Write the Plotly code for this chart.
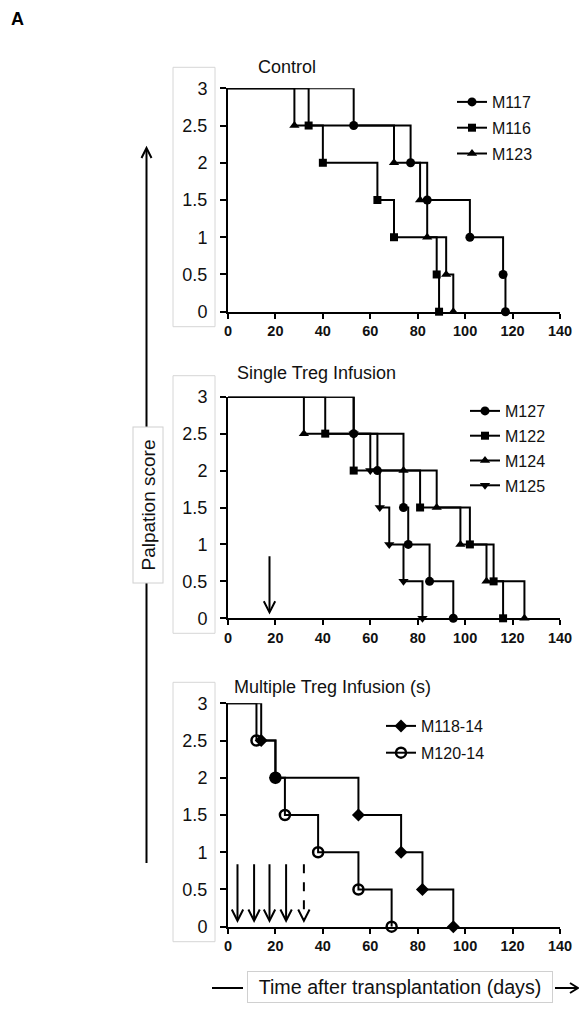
import plotly.graph_objects as go

# The page body has an 8px margin; the figure is sized to fill the rest of the window
OFF = 8
FW, FH = 587 - OFF, 1012 - OFF

# ---------------- data ----------------
start_day = 0
start_score = 3

# Control
m117_days = [53, 77, 84, 102, 116, 117]
m117_score = [2.5, 2, 1.5, 1, 0.5, 0]
m116_days = [34, 40, 63, 70, 88, 89]
m116_score = [2.5, 2, 1.5, 1, 0.5, 0]
m123_days = [28, 70, 81, 84, 92, 95]
m123_score = [2.5, 2, 1.5, 1, 0.5, 0]

# Single Treg infusion
m127_days = [53, 63, 74, 76, 85, 95]
m127_score = [2.5, 2, 1.5, 1, 0.5, 0]
m122_days = [41, 53, 81, 102, 112, 116]
m122_score = [2.5, 2, 1.5, 1, 0.5, 0]
m124_days = [32, 74, 88, 98, 109, 125]
m124_score = [2.5, 2, 1.5, 1, 0.5, 0]
m125_days = [53, 60, 64, 68, 74, 82]
m125_score = [2.5, 2, 1.5, 1, 0.5, 0]

# Multiple Treg infusions
m118_days = [14, 20, 55, 73, 82, 95]
m118_score = [2.5, 2, 1.5, 1, 0.5, 0]
m120_days = [12, 20, 24, 38, 55, 69]
m120_score = [2.5, 2, 1.5, 1, 0.5, 0]

single_infusion_days = [17.5]
multi_infusion_days = [4, 11, 17.5, 24.5]
multi_planned_days = [32]

panel_titles = ["Control", "Single Treg Infusion", "Multiple Treg Infusion (s)"]
x_ticks = [0, 20, 40, 60, 80, 100, 120, 140]
y_ticks = [0, 0.5, 1, 1.5, 2, 2.5, 3]
y_tick_text = ["0", "0.5", "1", "1.5", "2", "2.5", "3"]

# ---------------- layout helpers (window pixels -> paper) ----------------
def px(xp):
    return (xp - OFF) / FW

def py(yp):
    return 1 - (yp - OFF) / FH

X0, X1 = 228, 560
panels_px = [(88.3, 311.7), (396.7, 618.3), (703.3, 926.7)]  # (y at 3, y at 0)

FONT = "Liberation Sans, Arial, sans-serif"

fig = go.Figure()

series = [
    (1, "M117", m117_days, m117_score, "circle", 9),
    (1, "M116", m116_days, m116_score, "square", 8),
    (1, "M123", m123_days, m123_score, "triangle-up", 9),
    (2, "M127", m127_days, m127_score, "circle", 9),
    (2, "M122", m122_days, m122_score, "square", 8),
    (2, "M124", m124_days, m124_score, "triangle-up", 9),
    (2, "M125", m125_days, m125_score, "triangle-down", 9),
    (3, "M118-14", m118_days, m118_score, "diamond", 10),
    (3, "M120-14", m120_days, m120_score, "circle-open", 10),
]

for panel, name, days, score, sym, size in series:
    xa = "x" if panel == 1 else f"x{panel}"
    ya = "y" if panel == 1 else f"y{panel}"
    leg = "legend" if panel == 1 else f"legend{panel}"
    fig.add_trace(go.Scatter(
        x=[start_day, days[0]], y=[start_score, score[0]],
        mode="lines", line=dict(color="black", width=2, shape="hv"),
        xaxis=xa, yaxis=ya, showlegend=False, cliponaxis=False,
        hoverinfo="skip", legendgroup=name, legend=leg))
    mk = dict(symbol=sym, size=size, color="black")
    if sym.endswith("open"):
        mk["line"] = dict(color="black", width=2.5)
    fig.add_trace(go.Scatter(
        x=days, y=score, name=name, mode="lines+markers",
        line=dict(color="black", width=2, shape="hv"),
        marker=mk, xaxis=xa, yaxis=ya, cliponaxis=False,
        legendgroup=name, legend=leg))

axis_common = dict(showgrid=False, zeroline=False, showline=True,
                   linecolor="black", linewidth=2, ticks="outside",
                   tickcolor="black", tickwidth=2, automargin=False)

for i, (ytop, ybot) in enumerate(panels_px, start=1):
    sx = "" if i == 1 else str(i)
    anchor_y = "y" if i == 1 else f"y{i}"
    anchor_x = "x" if i == 1 else f"x{i}"
    fig.update_layout({
        f"xaxis{sx}": dict(axis_common, domain=[px(X0), px(X1)], range=[0, 140],
                           anchor=anchor_y, tickvals=x_ticks, ticklen=5,
                           tickfont=dict(family=FONT, size=14.5, color="#111", weight="bold")),
        f"yaxis{sx}": dict(axis_common, domain=[py(ybot), py(ytop)], range=[0, 3],
                           anchor=anchor_x, tickvals=y_ticks, ticktext=y_tick_text,
                           ticklen=6, ticklabelstandoff=9,
                           tickfont=dict(family=FONT, size=18, color="#111")),
    })

shapes = []
annotations = []

# boxes around y tick labels
for ytop, ybot in panels_px:
    shapes.append(dict(type="rect", xref="paper", yref="paper",
                       x0=px(173), x1=px(215), y0=py(ybot + 15), y1=py(ytop - 21),
                       line=dict(color="#d6d6d6", width=1), layer="below"))

# panel titles
title_pos = [(256, 67), (235, 373), (232, 687)]
for t, (tx, ty) in zip(panel_titles, title_pos):
    annotations.append(dict(text=t, x=px(tx), y=py(ty), xref="paper", yref="paper",
                            xanchor="left", yanchor="middle", showarrow=False,
                            font=dict(family=FONT, size=18, color="#111")))

# infusion arrows (in data coordinates)
def add_arrow(xref, yref, d, dash):
    shapes.append(dict(type="line", xref=xref, yref=yref, x0=d, x1=d, y0=0.84, y1=0.1,
                       line=dict(color="black", width=2, dash=dash)))
    shapes.append(dict(type="path", xref=xref, yref=yref,
                       path=f"M {d-2.4},{0.23} L {d},{0.08} L {d+2.4},{0.23}",
                       line=dict(color="black", width=2)))

for d in single_infusion_days:
    add_arrow("x2", "y2", d, "solid")
for d in multi_infusion_days:
    add_arrow("x3", "y3", d, "solid")
for d in multi_planned_days:
    add_arrow("x3", "y3", d, "dash")

# big y-axis arrow
ax_x = 146.5
shapes.append(dict(type="line", xref="paper", yref="paper", x0=px(ax_x), x1=px(ax_x),
                   y0=py(863), y1=py(149), line=dict(color="black", width=2)))
shapes.append(dict(type="path", xref="paper", yref="paper",
                   path=f"M {px(ax_x-5)},{py(158)} L {px(ax_x)},{py(148)} L {px(ax_x+5)},{py(158)}",
                   line=dict(color="black", width=2)))
annotations.append(dict(text="Palpation score", textangle=-90, x=px(147.5), y=py(505),
                        xref="paper", yref="paper", xanchor="center", yanchor="middle",
                        showarrow=False, width=147,
                        bgcolor="white", bordercolor="#d0d0d0", borderwidth=1, borderpad=4,
                        font=dict(family=FONT, size=19, color="#111")))

# big x-axis label with arrow
lab_y = 988
shapes.append(dict(type="line", xref="paper", yref="paper", x0=px(212), x1=px(243),
                   y0=py(lab_y), y1=py(lab_y), line=dict(color="black", width=2)))
shapes.append(dict(type="line", xref="paper", yref="paper", x0=px(555), x1=px(577),
                   y0=py(lab_y), y1=py(lab_y), line=dict(color="black", width=2)))
shapes.append(dict(type="path", xref="paper", yref="paper",
                   path=f"M {px(570)},{py(lab_y-5)} L {px(578)},{py(lab_y)} L {px(570)},{py(lab_y+5)}",
                   line=dict(color="black", width=2)))
annotations.append(dict(text="Time after transplantation (days)", x=px(400), y=py(986.5),
                        xref="paper", yref="paper", xanchor="center", yanchor="middle",
                        showarrow=False, width=296,
                        bgcolor="white", bordercolor="#d0d0d0", borderwidth=1, borderpad=4,
                        font=dict(family=FONT, size=19.7, color="#111")))

# panel letter
annotations.append(dict(text="<b>A</b>", x=px(10), y=1, xref="paper", yref="paper",
                        xanchor="left", yanchor="top", showarrow=False, borderpad=0,
                        font=dict(family=FONT, size=18, color="black")))

leg_common = dict(xanchor="left", yanchor="top", bgcolor="rgba(0,0,0,0)",
                  font=dict(family=FONT, size=16, color="#111"), itemwidth=30)

fig.update_layout(
    width=FW, height=FH, margin=dict(l=0, r=0, t=0, b=0, autoexpand=False),
    paper_bgcolor="white", plot_bgcolor="white",
    shapes=shapes, annotations=annotations,
    legend=dict(leg_common, x=px(452), y=py(85), tracegroupgap=2),
    legend2=dict(leg_common, x=px(465), y=py(394), tracegroupgap=1),
    legend3=dict(leg_common, x=px(381), y=py(709), tracegroupgap=3),
)

fig.write_html("out.html")
